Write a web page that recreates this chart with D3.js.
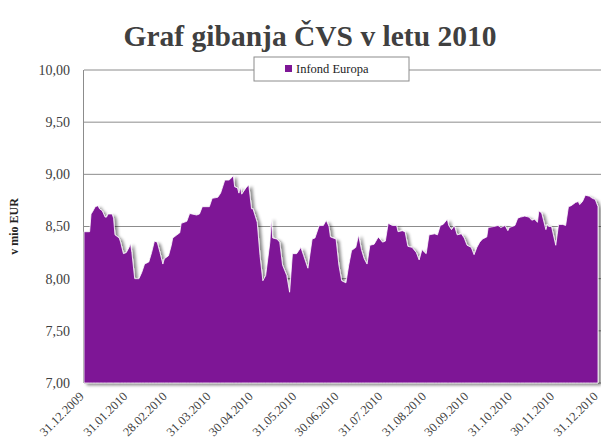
<!DOCTYPE html>
<html>
<head>
<meta charset="utf-8">
<script src="https://cdn.jsdelivr.net/npm/d3@7"></script>
<style>
  body { margin: 0; background: #fff; }
  svg { display: block; }
  svg text { font-family: "Liberation Serif", "DejaVu Serif", serif; }
</style>
</head>
<body>
<svg id="chart" width="601" height="448"></svg>
<script>
// podatki: dnevi od 31.12.2009 in vrednost ČVS (mio EUR)
const seriesName = 'Infond Europa';
const dayOffsets = [0, 4, 5, 6, 8, 10, 11, 13, 14, 15, 16, 17, 20, 21, 22, 25, 26, 28, 30, 32,
  33, 34, 36, 39, 41, 43, 46, 48, 50, 52, 54, 56, 57, 60, 62, 63, 66, 68, 69, 73,
  75, 80, 82, 84, 89, 91, 95, 97, 100, 103, 105, 106, 107, 109, 110, 111, 112, 115, 117, 119,
  120, 123, 125, 127, 129, 132, 133, 134, 137, 139, 141, 144, 146, 148, 151, 154, 156, 159, 162, 164,
  167, 170, 172, 174, 175, 179, 181, 183, 186, 188, 190, 193, 195, 197, 199, 201, 203, 206, 209, 212,
  214, 216, 219, 222, 223, 226, 228, 230, 233, 236, 238, 240, 242, 243, 245, 249, 251, 253, 255, 258,
  259, 261, 263, 265, 268, 270, 272, 275, 277, 279, 281, 283, 286, 287, 291, 294, 296, 299, 301, 302,
  306, 308, 310, 313, 316, 318, 320, 322, 323, 325, 328, 329, 330, 332, 335, 336, 337, 340, 342, 344,
  346, 349, 351, 352, 354, 356, 359, 361, 363, 365];
const values = [8.45, 8.45, 8.62, 8.64, 8.69, 8.70, 8.67, 8.65, 8.62, 8.59, 8.59, 8.62, 8.62, 8.58, 8.42, 8.39, 8.35, 8.24, 8.25, 8.30,
  8.34, 8.25, 8.00, 8.00, 8.06, 8.14, 8.16, 8.25, 8.36, 8.35, 8.25, 8.14, 8.19, 8.22, 8.32, 8.39, 8.42, 8.44, 8.53, 8.55,
  8.625, 8.61, 8.62, 8.69, 8.69, 8.77, 8.78, 8.82, 8.945, 8.945, 8.97, 8.99, 8.88, 8.87, 8.82, 8.88, 8.81, 8.87, 8.90, 8.67,
  8.67, 8.54, 8.22, 7.98, 8.03, 8.35, 8.58, 8.39, 8.38, 8.35, 8.13, 8.03, 7.87, 8.24, 8.24, 8.30, 8.22, 8.10, 8.38, 8.39,
  8.51, 8.51, 8.56, 8.50, 8.40, 8.38, 8.13, 7.98, 7.96, 8.13, 8.27, 8.30, 8.42, 8.28, 8.19, 8.14, 8.32, 8.33, 8.40, 8.35,
  8.36, 8.53, 8.51, 8.51, 8.45, 8.46, 8.45, 8.31, 8.30, 8.25, 8.18, 8.28, 8.25, 8.24, 8.42, 8.43, 8.42, 8.51, 8.52, 8.57,
  8.51, 8.47, 8.51, 8.42, 8.43, 8.39, 8.32, 8.30, 8.23, 8.30, 8.35, 8.38, 8.40, 8.49, 8.50, 8.51, 8.49, 8.51, 8.46, 8.49,
  8.51, 8.58, 8.59, 8.60, 8.59, 8.56, 8.57, 8.54, 8.65, 8.63, 8.47, 8.52, 8.50, 8.50, 8.32, 8.42, 8.52, 8.52, 8.51, 8.69,
  8.70, 8.73, 8.74, 8.71, 8.74, 8.80, 8.79, 8.77, 8.76, 8.69];
const tickDates = ['31.12.2009', '31.01.2010', '28.02.2010', '31.03.2010', '30.04.2010', '31.05.2010', '30.06.2010',
  '31.07.2010', '31.08.2010', '30.09.2010', '31.10.2010', '30.11.2010', '31.12.2010'];
const yTicks = [7.0, 7.5, 8.0, 8.5, 9.0, 9.5, 10.0];

const parseDate = d3.timeParse('%d.%m.%Y');
const startDate = parseDate(tickDates[0]);
const data = dayOffsets.map((d, i) => ({ date: d3.timeDay.offset(startDate, d), value: values[i] }));

const margin = { top: 70, right: 3, bottom: 65, left: 84 };
const width = 601, height = 448;
const serif = '"Liberation Serif", "DejaVu Serif", serif';
const svg = d3.select('#chart');

const x = d3.scaleTime()
  .domain([startDate, parseDate(tickDates[tickDates.length - 1])])
  .range([margin.left, width - margin.right]);
const y = d3.scaleLinear()
  .domain([7, 10])
  .range([height - margin.bottom, margin.top]);

const defs = svg.append('defs');
const shadow = defs.append('filter').attr('id', 'shadow')
  .attr('x', '-5%').attr('y', '-5%').attr('width', '115%').attr('height', '115%');
shadow.append('feDropShadow')
  .attr('dx', 3).attr('dy', 2).attr('stdDeviation', 1.6)
  .attr('flood-color', '#000').attr('flood-opacity', 0.45);

// naslov
svg.append('text')
  .attr('x', 310).attr('y', 46)
  .attr('text-anchor', 'middle')
  .attr('font-family', serif)
  .style('font-size', '29.5px').style('font-weight', 'bold')
  .attr('fill', '#404040')
  .text('Graf gibanja ČVS v letu 2010');

// mreža
svg.append('g').selectAll('line')
  .data(yTicks)
  .join('line')
  .attr('x1', margin.left).attr('x2', width)
  .attr('y1', d => y(d)).attr('y2', d => y(d))
  .attr('stroke', '#8c8c8c').attr('stroke-width', 1);

// os y
svg.append('line')
  .attr('x1', margin.left - 0.5).attr('x2', margin.left - 0.5)
  .attr('y1', y(10)).attr('y2', y(7))
  .attr('stroke', '#8c8c8c');

const yAxis = svg.append('g')
  .attr('transform', `translate(${margin.left},0)`)
  .call(d3.axisLeft(y).tickValues(yTicks).tickSize(0).tickPadding(14)
    .tickFormat(d => d3.format('.2f')(d).replace('.', ',')))
  .attr('font-family', serif);
yAxis.select('.domain').remove();
yAxis.selectAll('text')
  .style('font-size', '14px').attr('fill', '#404040');

svg.append('text')
  .attr('transform', `translate(18,${(y(7) + y(10)) / 2}) rotate(-90)`)
  .attr('text-anchor', 'middle')
  .attr('font-family', serif)
  .style('font-size', '12px').style('font-weight', 'bold')
  .attr('fill', '#222')
  .text('v mio EUR');

// ploščina
const area = d3.area()
  .x(d => x(d.date))
  .y0(y(7))
  .y1(d => y(d.value));

svg.append('path')
  .datum(data)
  .attr('d', area)
  .attr('fill', '#7e1696')
  .attr('stroke', '#fff')
  .attr('stroke-width', 0.8)
  .attr('filter', 'url(#shadow)');

// os x
const xAxis = svg.append('g')
  .attr('transform', `translate(0,${y(7)})`)
  .call(d3.axisBottom(x).tickValues(tickDates.map(parseDate)).tickSize(0)
    .tickFormat(d3.timeFormat('%d.%m.%Y')))
  .attr('font-family', serif);
xAxis.select('.domain').remove();
xAxis.selectAll('text')
  .style('font-size', '12.5px').attr('fill', '#404040')
  .attr('text-anchor', 'end')
  .attr('dy', 0)
  .attr('transform', 'translate(-2,12) rotate(-45)');

// legenda
const legend = svg.append('g').attr('transform', 'translate(254,57)');
legend.append('rect')
  .attr('width', 155).attr('height', 24)
  .attr('fill', '#fff').attr('stroke', '#8c8c8c');
legend.append('rect')
  .attr('x', 31).attr('y', 8).attr('width', 7).attr('height', 7)
  .attr('fill', '#7e1696');
legend.append('text')
  .attr('x', 42).attr('y', 16)
  .attr('font-family', serif)
  .style('font-size', '12.5px').attr('fill', '#222')
  .text(seriesName);
</script>
</body>
</html>
